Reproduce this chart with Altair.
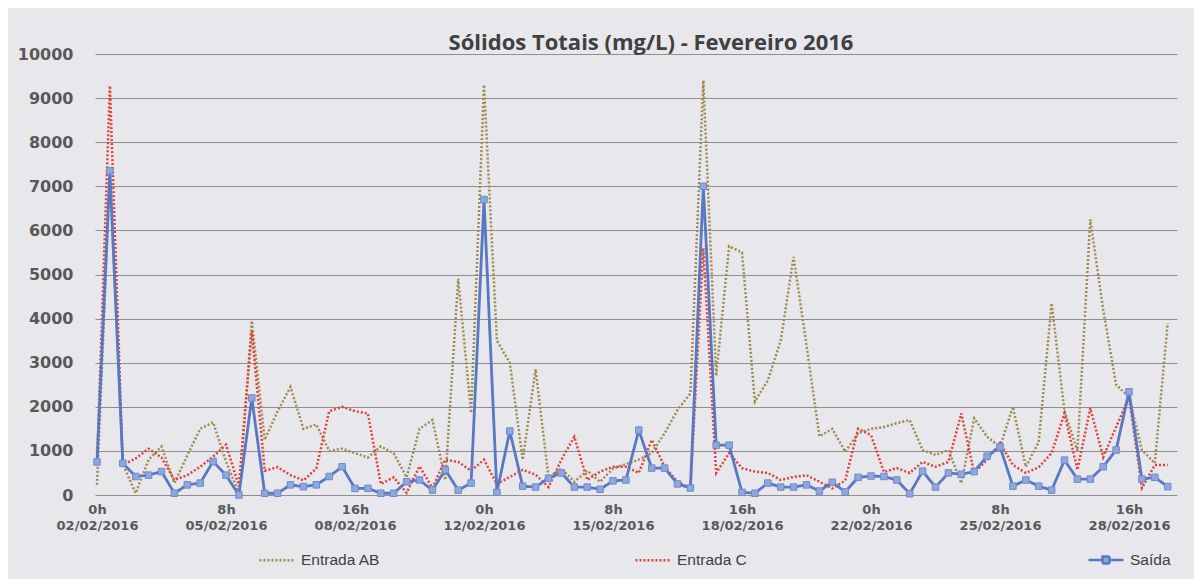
import json
import altair as alt
import pandas as pd

# ---------------- data (one value every 8 h) ----------------
entrada_ab = [230, 7200, 700, 40, 800, 1100, 270, 900, 1500, 1650,
              760, 40, 3950, 1250, 1900, 2450, 1500, 1600, 1000, 1050,
              950, 850, 1100, 950, 400, 1500, 1700, 340, 4900, 1860,
              9300, 3500, 3000, 800, 2850, 400, 600, 300, 550, 300,
              600, 700, 800, 950, 1400, 1930, 2300, 9400, 2700, 5640,
              5500, 2120, 2600, 3500, 5400, 3400, 1330, 1500, 980, 1400,
              1500, 1540, 1630, 1700, 1020, 910, 1020, 270, 1740, 1320,
              1090, 2000, 640, 1200, 4350, 1900, 1000, 6250, 4200, 2500,
              2220, 1020, 720, 3900]
entrada_c = [700, 9280, 680, 830, 1050, 850, 340, 450, 640, 870,
             1140, 200, 3710, 550, 630, 450, 330, 600, 1900, 2000,
             1900, 1850, 250, 400, 50, 650, 160, 800, 750, 550,
             800, 250, 410, 570, 460, 180, 800, 1320, 340, 530,
             640, 640, 500, 1250, 640, 300, 150, 5600, 500, 950,
             610, 530, 500, 340, 410, 450, 300, 150, 330, 1500,
             1360, 520, 610, 500, 750, 640, 750, 1850, 500, 800,
             1180, 680, 500, 630, 950, 1850, 570, 1970, 860, 1540,
             2220, 160, 680, 680]
saida = [750, 7350, 720, 420, 450, 530, 40, 230, 270, 760,
         450, 0, 2200, 40, 40, 230, 190, 230, 420, 640,
         150, 150, 40, 40, 300, 340, 110, 570, 110, 270,
         6700, 60, 1450, 200, 180, 380, 500, 180, 180, 130,
         320, 340, 1470, 610, 610, 250, 160, 7000, 1130, 1130,
         60, 40, 270, 180, 180, 230, 90, 290, 70, 400,
         430, 420, 340, 30, 540, 180, 500, 470, 530, 880,
         1090, 200, 340, 200, 110, 790, 360, 360, 640, 1020,
         2340, 360, 400, 190]

series_names = ["Entrada AB", "Entrada C", "Saída"]
series_colors = ["#9e8b50", "#e2403c", "#5878c4"]
series_dashes = [[2, 2], [2, 2], [1, 0]]

tick_hours = ["0h", "8h", "16h", "0h", "8h", "16h", "0h", "8h", "16h"]
tick_dates = ["02/02/2016", "05/02/2016", "08/02/2016", "12/02/2016", "15/02/2016",
              "18/02/2016", "22/02/2016", "25/02/2016", "28/02/2016"]
tick_step = 10
y_ticks = [0, 1000, 2000, 3000, 4000, 5000, 6000, 7000, 8000, 9000, 10000]

title_text = "Sólidos Totais (mg/L) - Fevereiro 2016"

# ---------------- table ----------------
rows = []
for name, vals in zip(series_names, [entrada_ab, entrada_c, saida]):
    for i, v in enumerate(vals):
        rows.append({"i": i, "valor": v, "serie": name})
df = pd.DataFrame(rows)

label_pairs = [[h, d] for h, d in zip(tick_hours, tick_dates)]
label_expr = f"{json.dumps(label_pairs)}[round(datum.value / {tick_step})]"

GRAY = "#595959"
BG = "#e8e7ec"
LEG_FONT = "Liberation Sans"
BLUE = series_colors[2]

x = alt.X(
    "i:Q",
    scale=alt.Scale(domain=[-0.155, 83.72], nice=False, zero=False),
    axis=alt.Axis(
        values=[k * tick_step for k in range(len(tick_dates))],
        labelExpr=label_expr,
        title=None, grid=False, domain=False, ticks=False, tickSize=0,
        labelPadding=8, labelFont="DejaVu Sans", labelFontSize=13,
        labelFontWeight="bold", labelColor=GRAY, labelLineHeight=16,
        labelOverlap=False, labelFlush=False,
    ),
)
y = alt.Y(
    "valor:Q",
    scale=alt.Scale(domain=[0, 10000], nice=False),
    axis=alt.Axis(
        values=y_ticks, format="d", title=None, domain=False, ticks=False, tickSize=0,
        labelPadding=22, gridColor="#8f8f8f", gridWidth=1,
        labelFont="DejaVu Sans", labelFontSize=16, labelFontWeight="bold",
        labelColor=GRAY,
    ),
)

# legend for the two dotted inputs (colour channel)
legend_in = alt.Legend(
    title=None, orient="none", legendX=163, legendY=487, values=series_names[:2],
    direction="horizontal", columns=2, gridAlign="each", columnPadding=249,
    symbolType="stroke", symbolSize=1225, symbolStrokeWidth=2.5, symbolDash=[2, 2],
    labelOffset=5, labelFont=LEG_FONT, labelFontSize=15.5, labelColor="#404040",
)
# legend for the output line (strokeDash channel, separate scale domain order)
legend_out = alt.Legend(
    title=None, orient="none", legendX=992, legendY=487, values=series_names[2:],
    direction="horizontal",
    symbolType="M-1,0H-0.2M0.2,0H1M-0.2,-0.2H0.2V0.2H-0.2Z", symbolSize=1225,
    symbolStrokeWidth=2.5, symbolStrokeColor=BLUE, symbolFillColor="#91a7dc",
    labelOffset=5, labelFont=LEG_FONT, labelFontSize=15.5, labelColor="#404040",
)

color = alt.Color("serie:N", scale=alt.Scale(domain=series_names, range=series_colors),
                  legend=legend_in)
dash_domain = [series_names[2], series_names[0], series_names[1]]
dash_range = [series_dashes[2], series_dashes[0], series_dashes[1]]
dash = alt.StrokeDash("serie:N", scale=alt.Scale(domain=dash_domain, range=dash_range),
                      legend=legend_out)

base = alt.Chart(df).encode(x=x, y=y, color=color, strokeDash=dash)

ab = base.transform_filter(alt.datum.serie == "Entrada AB").mark_line(
    strokeWidth=2.5, color=BLUE)
c = base.transform_filter(alt.datum.serie == "Entrada C").mark_line(
    strokeWidth=2.5, color=BLUE)
s_line = base.transform_filter(alt.datum.serie == "Saída").mark_line(
    strokeWidth=2.8, color=BLUE)
s_pts = alt.Chart(df).transform_filter(alt.datum.serie == "Saída").mark_square(
    size=42, filled=True, opacity=1).encode(
    x=x, y=y,
    fill=alt.value("#91a7dc"), stroke=alt.value("#6b8bd0"), strokeWidth=alt.value(1))

chart = alt.layer(ab, c, s_line, s_pts).properties(
    width=1082, height=441,
    padding={"left": 87, "top": 46, "right": 17, "bottom": 84},
    autosize=alt.AutoSizeParams(type="none"),
    title=alt.TitleParams(title_text, font="Open Sans", fontSize=22, fontWeight="bold",
                          color="#404040", anchor="middle", dx=15, offset=-9),
).configure(background=BG).configure_view(stroke=None)

chart.save("out.html", embed_options={"renderer": "svg", "actions": False})
